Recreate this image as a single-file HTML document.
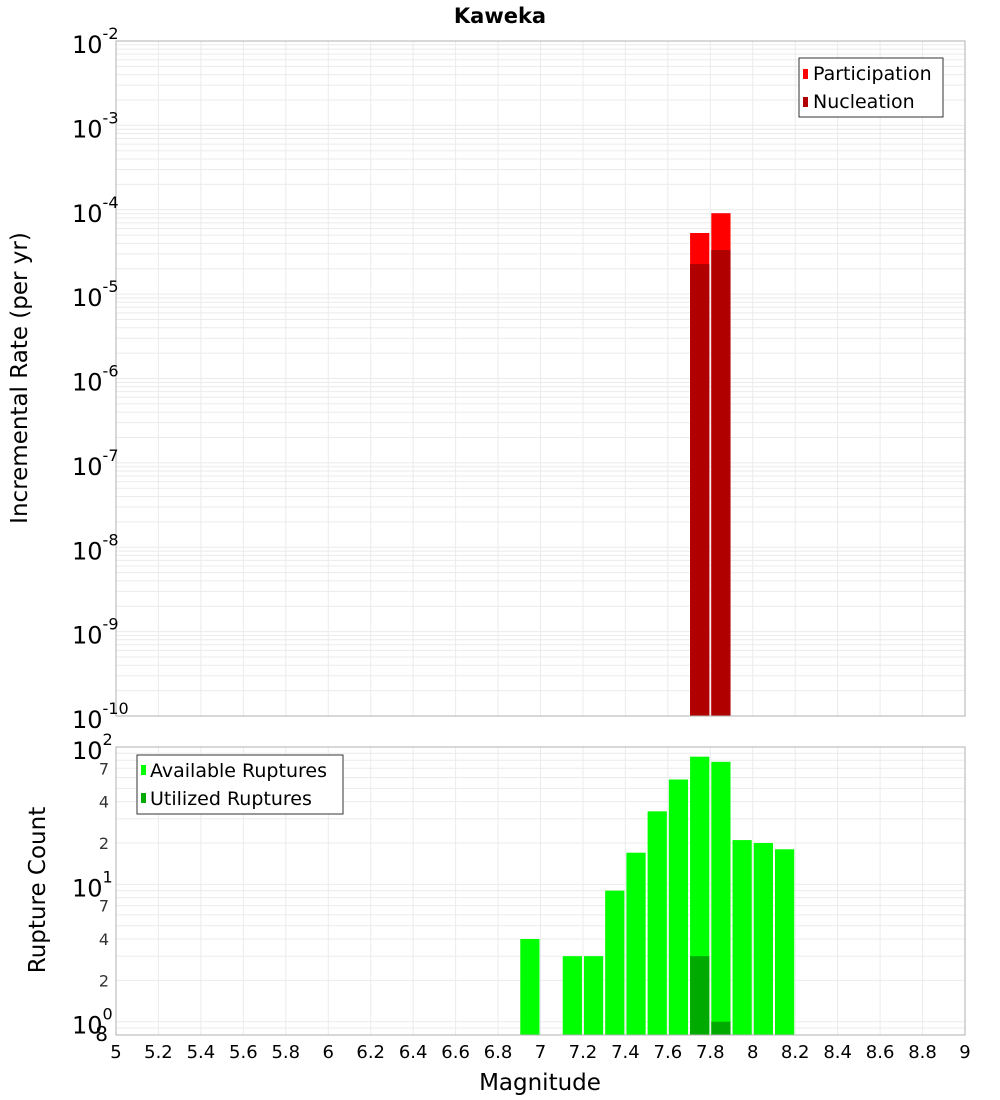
<!DOCTYPE html>
<html><head><meta charset="utf-8"><style>
body{margin:0;background:#fff;}
svg{display:block;font-family:"DejaVu Sans","Liberation Sans",sans-serif;}
</style></head><body>
<svg id="chart" width="1000" height="1100" xmlns="http://www.w3.org/2000/svg">
<text x="500" y="23" text-anchor="middle" font-size="21" font-weight="bold">Kaweka</text>
<g id="topg"></g>
<g id="botg"></g>
<text transform="translate(27,378) rotate(-90)" text-anchor="middle" font-size="23">Incremental Rate (per yr)</text>
<text transform="translate(45,890) rotate(-90)" text-anchor="middle" font-size="23">Rupture Count</text>
<text x="540" y="1090" text-anchor="middle" font-size="23">Magnitude</text>
<g>
<rect x="799" y="58" width="144" height="59" fill="#fff" stroke="#333" stroke-width="1"/>
<rect x="803" y="69" width="5" height="10" fill="#ff0000"/>
<text x="813" y="80" font-size="19">Participation</text>
<rect x="803" y="97" width="5" height="10" fill="#b00000"/>
<text x="813" y="108" font-size="19">Nucleation</text>
</g>
<g>
<rect x="137" y="755" width="206" height="59" fill="#fff" stroke="#333" stroke-width="1"/>
<rect x="141" y="765" width="5" height="10" fill="#00ff00"/>
<text x="150" y="777" font-size="19">Available Ruptures</text>
<rect x="141" y="793" width="5" height="10" fill="#00aa00"/>
<text x="150" y="805" font-size="19">Utilized Ruptures</text>
</g>
</svg>
<script>
const partMags=[7.75,7.85];
const partVals=[5.3e-5,9.1e-5];
const nuclMags=[7.75,7.85];
const nuclVals=[2.27e-5,3.33e-5];
const availMags=[6.95,7.15,7.25,7.35,7.45,7.55,7.65,7.75,7.85,7.95,8.05,8.15];
const availVals=[4,3,3,9,17,34,58,85,78,21,20,18];
const usedMags=[7.75,7.85];
const usedVals=[3,1];
const xTicks=[5,5.2,5.4,5.6,5.8,6,6.2,6.4,6.6,6.8,7,7.2,7.4,7.6,7.8,8,8.2,8.4,8.6,8.8,9];

const NS="http://www.w3.org/2000/svg";
const X0=116,X1=965;
const xs=m=>X0+(m-5)/4*(X1-X0);
const T0=41,T1=716;
const yTop=v=>T0+(-2-Math.log10(v))/8*(T1-T0);
const B0=747,B1=1035;
const lmin=Math.log10(0.8);
const yBot=v=>B0+(2-Math.log10(v))/(2-lmin)*(B1-B0);
function mk(tag,attrs,parent){const e=document.createElementNS(NS,tag);for(const k in attrs)e.setAttribute(k,attrs[k]);parent.appendChild(e);return e;}
const topG=document.getElementById('topg'),botG=document.getElementById('botg');

for(let d=-10;d<-2;d++)for(let k=1;k<10;k++){const y=yTop(k*Math.pow(10,d));const l=mk('line',{x1:X0,x2:X1,y1:y,y2:y,stroke:'#ebebeb','stroke-width':1},topG);

}
for(const t of xTicks){const l=mk('line',{x1:xs(t),x2:xs(t),y1:T0,y2:T1,stroke:'#ebebeb'},topG);

}
const bv=[0.8,0.9];for(let d=0;d<2;d++)for(let k=1;k<10;k++)bv.push(k*Math.pow(10,d));
for(const v of bv){const y=yBot(v);const l=mk('line',{x1:X0,x2:X1,y1:y,y2:y,stroke:'#ebebeb'},botG);

}
for(const t of xTicks){const l=mk('line',{x1:xs(t),x2:xs(t),y1:B0,y2:B1,stroke:'#ebebeb'},botG);

}

const bw=xs(5.1)-xs(5)-2;
function bars(mags,vals,yf,base,fill,parent,name){mags.forEach((m,i)=>{const y=yf(vals[i]);const r=mk('rect',{x:xs(m)-bw/2,y:y,width:bw,height:base-y,fill:fill},parent);

});}
bars(partMags,partVals,yTop,T1,'#ff0000',topG,'participation-bar');
bars(nuclMags,nuclVals,yTop,T1,'#b00000',topG,'nucleation-bar');
bars(availMags,availVals,yBot,B1,'#00ff00',botG,'available-bar');
bars(usedMags,usedVals,yBot,B1,'#00aa00',botG,'utilized-bar');

mk('rect',{x:X0,y:T0,width:X1-X0,height:T1-T0,fill:'none',stroke:'#b0b0b0'},topG);
mk('rect',{x:X0,y:B0,width:X1-X0,height:B1-B0,fill:'none',stroke:'#b0b0b0'},botG);

for(let d=-10;d<=-2;d++){const y=yTop(Math.pow(10,d));const t=mk('text',{x:72,y:y+12,'font-size':24},topG);t.textContent='10';


const s=mk('tspan',{dy:-14,'font-size':16},t);s.textContent=String(d);}
for(let d=0;d<=2;d++){const y=yBot(Math.pow(10,d));const t=mk('text',{x:72,y:y+12,'font-size':24},botG);t.textContent='10';


const s=mk('tspan',{dy:-14,'font-size':16},t);s.textContent=String(d);}
for(const [v,lab] of [[70,'7'],[40,'4'],[20,'2'],[7,'7'],[4,'4'],[2,'2'],[0.8,'8']]){const big=v===0.8;const t=mk('text',{x:big?108:109,y:yBot(v)+6,'font-size':big?20:16,'text-anchor':'end',fill:big?'#000':'#333'},botG);t.textContent=lab;

}
for(const tv of xTicks){const t=mk('text',{x:xs(tv),y:1058,'font-size':18,'text-anchor':'middle'},botG);t.textContent=String(tv);

}
</script>
</body></html>
